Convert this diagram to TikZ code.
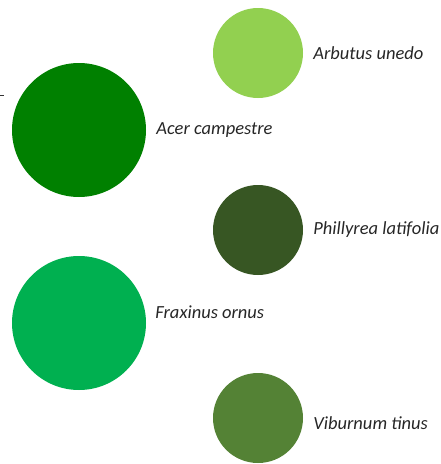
\documentclass[tikz,border=0pt]{standalone}
\usepackage{fontspec}
\setmainfont{Carlito}
\usepackage{xcolor}
\usetikzlibrary{positioning}

\definecolor{arbutusgreen}{HTML}{92D050}
\definecolor{acergreen}{HTML}{008000}
\definecolor{phillyreagreen}{HTML}{375623}
\definecolor{fraxinusgreen}{HTML}{00B050}
\definecolor{viburnumgreen}{HTML}{548235}

\begin{document}
\begin{tikzpicture}[
    x=1pt, y=-1pt,
    small/.style={circle, minimum size=90pt, inner sep=0pt},
    big/.style={circle, minimum size=134pt, inner sep=0pt},
    lbl/.style={inner sep=0pt, anchor=west, text=black!85, font=\fontsize{18.5}{21}\selectfont\itshape}
]
\useasboundingbox (0,0) rectangle (441,464);

% shrubs on the right
\node[small, fill=arbutusgreen] (arb) at (258,53) {};
\node[small, fill=phillyreagreen] (phi) at (258,230) {};
\node[small, fill=viburnumgreen] (vib) at (258,418) {};

% trees on the left
\node[big, fill=acergreen] (ace) at (79,130) {};
\node[big, fill=fraxinusgreen] (fra) at (79,323) {};

% names
\node[lbl, right=10pt of arb] (arbname) {Arbutus unedo};
\node[lbl, right=10pt of ace] (acename) {Acer campestre};
\node[lbl, right=10pt of phi] (phiname) {Phillyrea latifolia};
\node[lbl, right=9pt of fra, yshift=11pt] (franame) {Fraxinus ornus};
\node[lbl, right=10pt of vib, yshift=-5pt] (vibname) {Viburnum tinus};

\draw[thick, black!80] (0,95) -- (4,95);
\end{tikzpicture}
\end{document}
